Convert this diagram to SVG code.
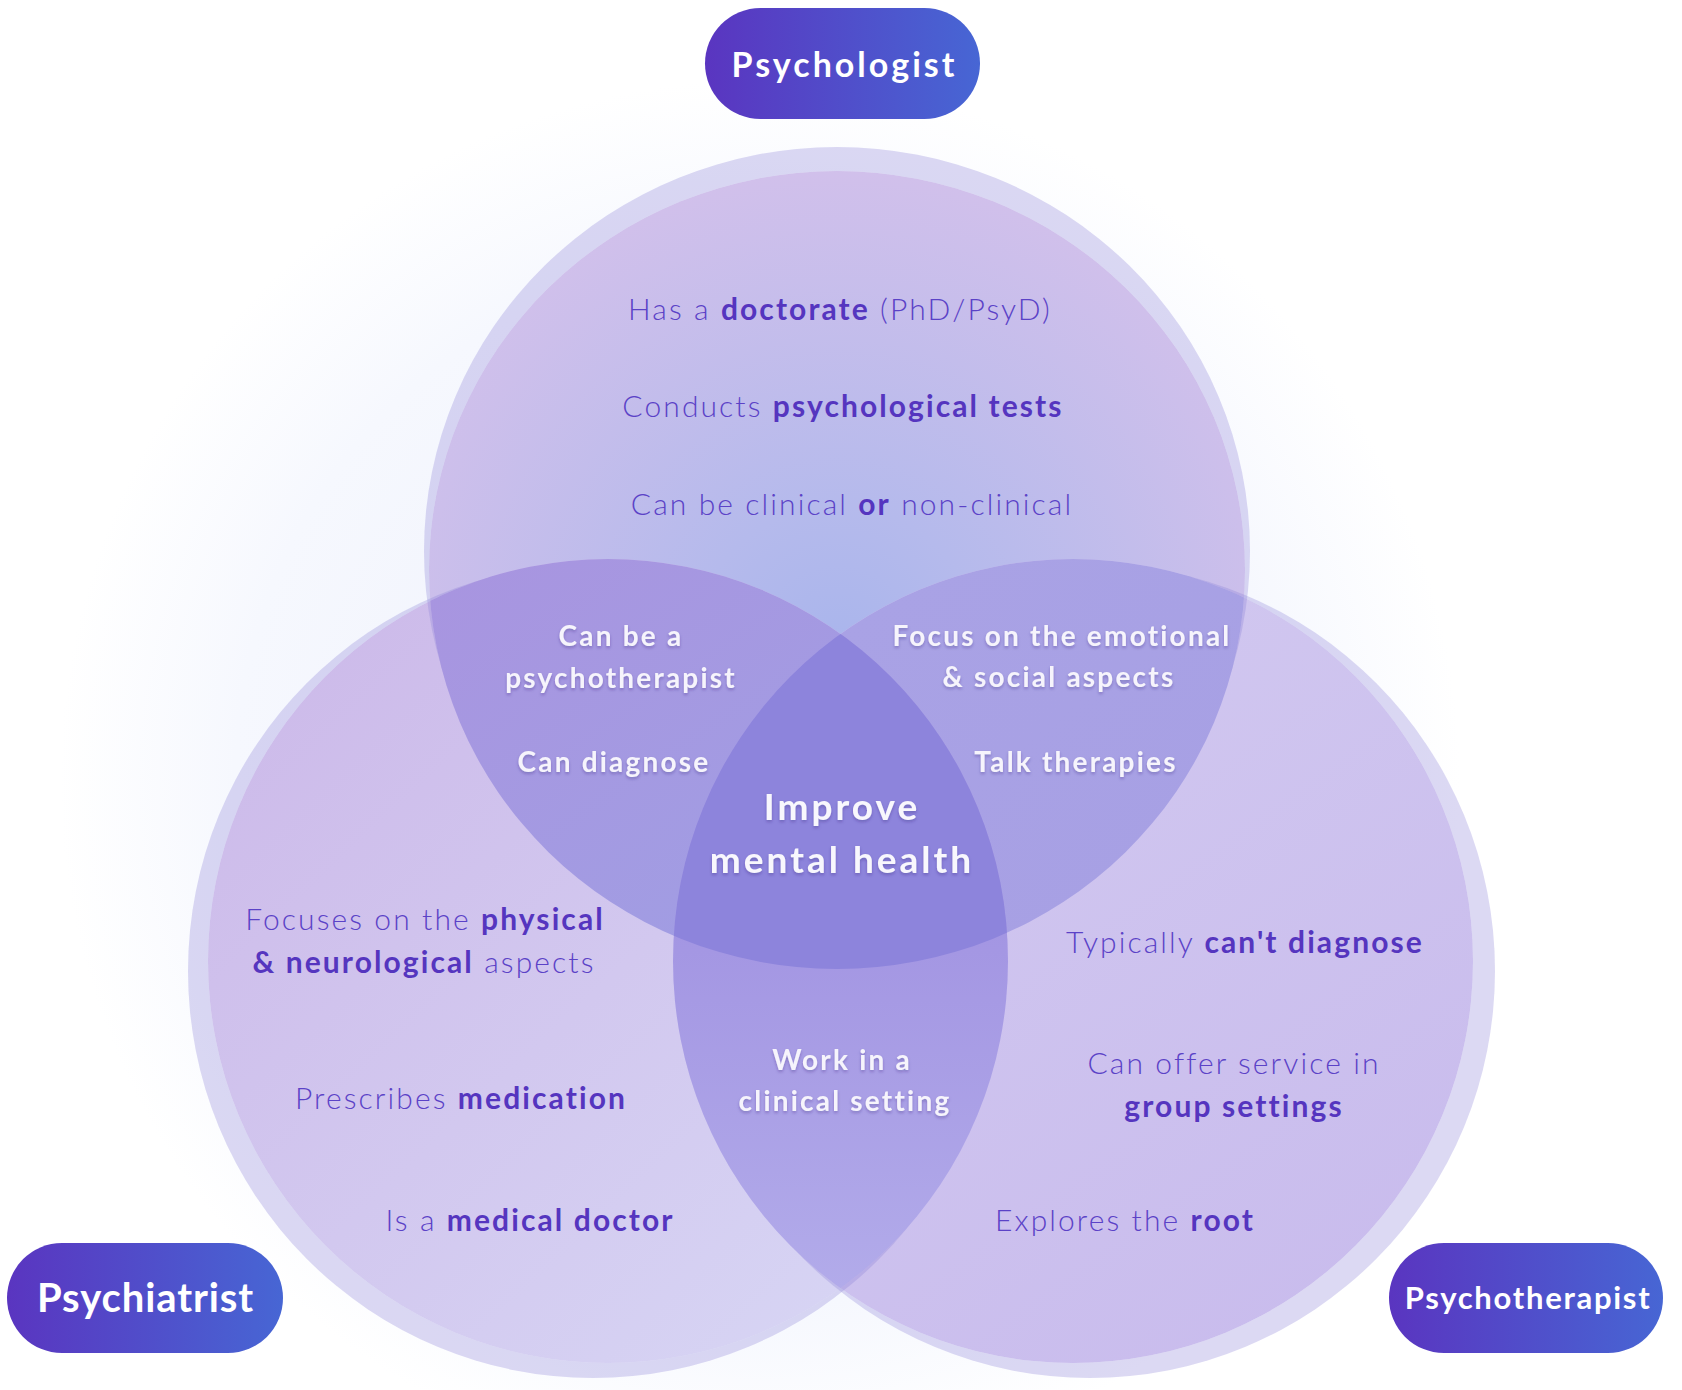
<svg xmlns="http://www.w3.org/2000/svg" width="1682" height="1390" viewBox="0 0 1682 1390">
<defs>
<style>
.t{font-family:Lato,"Open Sans","Liberation Sans",sans-serif;font-weight:300;font-size:30px;letter-spacing:2.1px;fill:#5B42C7;text-anchor:middle}
.b{font-weight:700;fill:#5535BF}
.w{font-family:Lato,"Open Sans","Liberation Sans",sans-serif;font-weight:700;font-size:28px;letter-spacing:2.2px;fill:#F6F4FC;text-anchor:middle;filter:url(#sh)}
.c{font-family:Lato,"Open Sans","Liberation Sans",sans-serif;font-weight:700;font-size:37px;letter-spacing:3px;fill:#F8F7FD;text-anchor:middle;filter:url(#sh)}
.p{font-family:Lato,"Open Sans","Liberation Sans",sans-serif;font-weight:700;fill:#FFFFFF;text-anchor:middle}
.halo{fill:#8C80D7;fill-opacity:0.3}
</style>
<filter id="sh" x="-10%" y="-30%" width="120%" height="160%">
<feDropShadow dx="0" dy="2" stdDeviation="1.5" flood-color="#2a1a70" flood-opacity="0.3"/>
</filter>
<radialGradient id="bg" gradientUnits="userSpaceOnUse" cx="760" cy="780" r="700">
<stop offset="0" stop-color="#EDF0FB"/>
<stop offset="0.75" stop-color="#F6F8FE"/>
<stop offset="1" stop-color="#FFFFFF"/>
</radialGradient>
<linearGradient id="pill" x1="0" y1="0" x2="1" y2="0">
<stop offset="0" stop-color="#5A35C0"/>
<stop offset="1" stop-color="#4766D4"/>
</linearGradient>
<radialGradient id="gTop" gradientUnits="userSpaceOnUse" cx="837" cy="650" r="480">
<stop offset="0" stop-color="#A9B5EC"/>
<stop offset="0.3" stop-color="#B5BAEC"/>
<stop offset="1" stop-color="#D1C0EB"/>
</radialGradient>
<linearGradient id="gLeft" x1="0.1" y1="0.15" x2="0.85" y2="0.95">
<stop offset="0" stop-color="#CDBBEA"/>
<stop offset="1" stop-color="#D7D5F4"/>
</linearGradient>
<linearGradient id="gRight" x1="0.2" y1="0.1" x2="0.8" y2="0.95">
<stop offset="0" stop-color="#D2C9F0"/>
<stop offset="1" stop-color="#C9BCED"/>
</linearGradient>
<linearGradient id="gTL" gradientUnits="userSpaceOnUse" x1="450" y1="580" x2="700" y2="950">
<stop offset="0" stop-color="#A895E0"/>
<stop offset="1" stop-color="#A19DE3"/>
</linearGradient>
<linearGradient id="gTR" gradientUnits="userSpaceOnUse" x1="900" y1="580" x2="1150" y2="900">
<stop offset="0" stop-color="#A9A2E5"/>
<stop offset="1" stop-color="#A7A0E4"/>
</linearGradient>
<linearGradient id="gLR" gradientUnits="userSpaceOnUse" x1="0" y1="900" x2="0" y2="1340">
<stop offset="0" stop-color="#A294E2"/>
<stop offset="1" stop-color="#B4AEEB"/>
</linearGradient>
<clipPath id="clipTop"><ellipse cx="837" cy="570" rx="408" ry="399"/></clipPath>
<clipPath id="clipLeft"><ellipse cx="608" cy="961" rx="400" ry="402"/></clipPath>
<mask id="mTop" maskUnits="userSpaceOnUse" x="0" y="0" width="1682" height="1390">
<ellipse cx="837" cy="551" rx="413" ry="404" fill="#fff"/><ellipse cx="837" cy="570" rx="408" ry="399" fill="#000"/>
</mask>
<mask id="mLeft" maskUnits="userSpaceOnUse" x="0" y="0" width="1682" height="1390">
<ellipse cx="593" cy="971" rx="405" ry="407" fill="#fff"/><ellipse cx="608" cy="961" rx="400" ry="402" fill="#000"/>
</mask>
<mask id="mRight" maskUnits="userSpaceOnUse" x="0" y="0" width="1682" height="1390">
<ellipse cx="1090" cy="971" rx="405" ry="407" fill="#fff"/><ellipse cx="1073" cy="961" rx="400" ry="402" fill="#000"/>
</mask>
</defs>

<rect width="1682" height="1390" fill="#FFFFFF"/>
<circle cx="760" cy="780" r="700" fill="url(#bg)"/>

<g id="venn">
<ellipse id="circle-psychologist" cx="837" cy="570" rx="408" ry="399" fill="url(#gTop)"/>
<ellipse id="circle-psychiatrist" cx="608" cy="961" rx="400" ry="402" fill="url(#gLeft)"/>
<ellipse id="circle-psychotherapist" cx="1073" cy="961" rx="400" ry="402" fill="url(#gRight)"/>
<g id="overlap-psychologist-psychiatrist" clip-path="url(#clipTop)"><ellipse cx="608" cy="961" rx="400" ry="402" fill="url(#gTL)"/></g>
<g id="overlap-psychologist-psychotherapist" clip-path="url(#clipTop)"><ellipse cx="1073" cy="961" rx="400" ry="402" fill="url(#gTR)"/></g>
<g id="overlap-psychiatrist-psychotherapist" clip-path="url(#clipLeft)"><ellipse cx="1073" cy="961" rx="400" ry="402" fill="url(#gLR)"/></g>
<g id="overlap-all" clip-path="url(#clipTop)"><g clip-path="url(#clipLeft)"><ellipse cx="1073" cy="961" rx="400" ry="402" fill="#8D84DC"/></g></g>
<g id="halos">
<rect class="halo" width="1682" height="1390" mask="url(#mTop)"/>
<rect class="halo" width="1682" height="1390" mask="url(#mLeft)"/>
<rect class="halo" width="1682" height="1390" mask="url(#mRight)"/>
</g>
</g>

<g id="connectors"></g>

<g id="text-psychologist">
<text class="t" x="840" y="320">Has a <tspan class="b">doctorate</tspan> (PhD/PsyD)</text>
<text class="t" x="843" y="417">Conducts <tspan class="b">psychological tests</tspan></text>
<text class="t" x="852" y="515">Can be clinical <tspan class="b">or</tspan> non-clinical</text>
</g>

<g id="text-psychiatrist">
<text class="t" x="425" y="930">Focuses on the <tspan class="b">physical</tspan></text>
<text class="t" x="424" y="973"><tspan class="b">&amp; neurological</tspan> aspects</text>
<text class="t" x="461" y="1109">Prescribes <tspan class="b">medication</tspan></text>
<text class="t" x="530" y="1231">Is a <tspan class="b">medical doctor</tspan></text>
</g>

<g id="text-psychotherapist">
<text class="t" x="1245" y="953">Typically <tspan class="b">can't diagnose</tspan></text>
<text class="t" x="1234" y="1074">Can offer service in</text>
<text class="t b" x="1234" y="1117">group settings</text>
<text class="t" x="1125" y="1231">Explores the <tspan class="b">root</tspan></text>
</g>

<g id="text-overlap-psychologist-psychiatrist">
<text class="w" x="621" y="646">Can be a</text>
<text class="w" x="621" y="688">psychotherapist</text>
<text class="w" x="614" y="772">Can diagnose</text>
</g>

<g id="text-overlap-psychologist-psychotherapist">
<text class="w" x="1062" y="646">Focus on the emotional</text>
<text class="w" x="1059" y="687">&amp; social aspects</text>
<text class="w" x="1076" y="772">Talk therapies</text>
</g>

<g id="text-overlap-psychiatrist-psychotherapist">
<text class="w" x="842" y="1070">Work in a</text>
<text class="w" x="845" y="1111">clinical setting</text>
</g>

<g id="text-center">
<text class="c" x="842" y="820">Improve</text>
<text class="c" x="842" y="873">mental health</text>
</g>

<g id="node-psychologist">
<rect x="705" y="8" width="275" height="111" rx="55.5" fill="url(#pill)"/>
<text class="p" x="844.5" y="77" font-size="34" letter-spacing="3">Psychologist</text>
</g>
<g id="node-psychiatrist">
<rect x="7" y="1243" width="276" height="110" rx="55" fill="url(#pill)"/>
<text class="p" x="145.5" y="1312" font-size="40" letter-spacing="0.9">Psychiatrist</text>
</g>
<g id="node-psychotherapist">
<rect x="1389" y="1243" width="274" height="110" rx="55" fill="url(#pill)"/>
<text class="p" x="1528" y="1309" font-size="31" letter-spacing="1.7">Psychotherapist</text>
</g>
</svg>
